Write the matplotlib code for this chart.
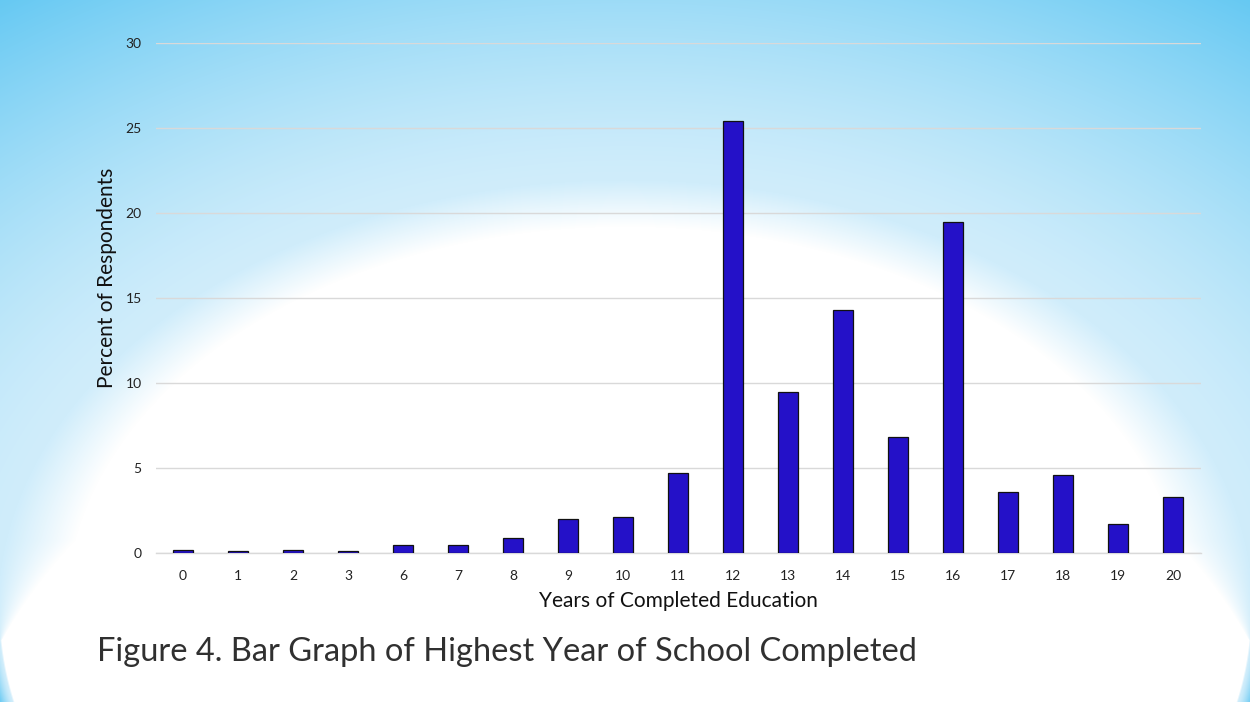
import numpy as np
import matplotlib
matplotlib.use('Agg')
import matplotlib.pyplot as plt

# ── Data ───────────────────────────────────────────────────────────────────────
years = ['0', '1', '2', '3', '6', '7', '8', '9', '10', '11', '12',
         '13', '14', '15', '16', '17', '18', '19', '20']
percent = [0.2, 0.1, 0.2, 0.1, 0.5, 0.5, 0.9, 2.0, 2.1, 4.7, 25.4,
           9.5, 14.3, 6.8, 19.5, 3.6, 4.6, 1.7, 3.3]
y_ticks = [0, 5, 10, 15, 20, 25, 30]

TITLE = 'Figure 4. Bar Graph of Highest Year of School Completed'
X_LABEL = 'Years of Completed Education'
Y_LABEL = 'Percent of Respondents'

W, H = 1250, 702
BAR_COLOR = '#2411C8'
GRID_COLOR = '#D9D9D9'
FONT = ['Lato', 'DejaVu Sans']


def slide_background(w, h):
    """White ellipse near the bottom, fading to sky blue outside it."""
    yy, xx = np.mgrid[0:h, 0:w].astype(float)
    cx, cy, ax_, ay_ = w / 2, 610.0, 627.0, 430.0
    d = np.sqrt(((xx - cx) / ax_) ** 2 + ((yy - cy) / ay_) ** 2)
    # gentle fade above, sharp edge at the bottom corners
    width = np.interp(yy, [540, 640], [0.9, 0.025])
    s = (d - 1.0) / width

    white = np.array([255, 255, 255])
    pale = np.array([208, 237, 251])
    strong = np.array([70, 190, 240])

    img = np.empty((h, w, 3))
    t = np.clip(s, 0, 1) ** 1.3
    for k in range(3):
        inner = np.interp(s, [-0.12, 0.0], [white[k], pale[k]])
        outer = pale[k] + (strong[k] - pale[k]) * t
        img[..., k] = np.where(s < 0, inner, outer)
    return img / 255.0


fig = plt.figure(figsize=(W / 100, H / 100), dpi=100)

bg = fig.add_axes([0, 0, 1, 1])
bg.imshow(slide_background(W, H), aspect='auto', interpolation='bilinear')
bg.axis('off')

ax = fig.add_axes([155.5 / W, 1 - 553 / H, 1045 / W, 510 / H])
ax.set_facecolor('none')

x = np.arange(len(years))
ax.bar(x, percent, width=0.35, color=BAR_COLOR, edgecolor='#111111',
       linewidth=0.9, zorder=3)

ax.set_xlim(-0.5, len(years) - 0.5)
ax.set_ylim(0, 30)
ax.set_yticks(y_ticks)
ax.set_xticks(x, years)
ax.grid(axis='y', color=GRID_COLOR, linewidth=1.0, zorder=0)
ax.tick_params(axis='both', length=0, labelsize=10, colors='#222222')
ax.tick_params(axis='x', pad=12)
ax.tick_params(axis='y', pad=10)
for lbl in ax.get_xticklabels() + ax.get_yticklabels():
    lbl.set_family(FONT)

for side in ('top', 'right', 'left'):
    ax.spines[side].set_visible(False)
ax.spines['bottom'].set_color(GRID_COLOR)
ax.spines['bottom'].set_linewidth(1.0)

ax.set_xlabel(X_LABEL, fontsize=15, family=FONT, color='#111111', labelpad=7)
ax.set_ylabel(Y_LABEL, fontsize=15, family=FONT, color='#111111')
ax.yaxis.set_label_coords((117 - 155.5) / 1045, (553 - 278) / 510)

fig.text(97 / W, 1 - 652 / H, TITLE, fontsize=23.5, family=FONT,
         color='#303030', ha='left', va='center')

fig.savefig('out.png', dpi=100)
